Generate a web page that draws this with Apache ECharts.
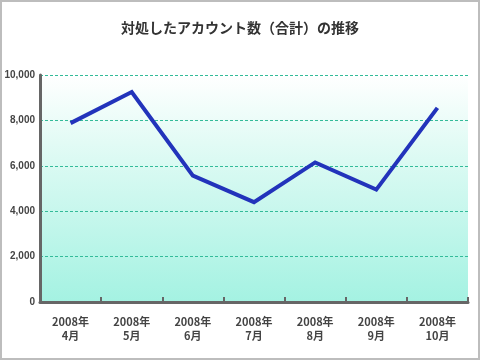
<!DOCTYPE html>
<html>
<head>
<meta charset="utf-8">
<script src="https://cdn.jsdelivr.net/npm/echarts@6/dist/echarts.min.js"></script>
<style>
html,body{margin:0;padding:0;background:#fff;}
#c{width:480px;height:360px;}
</style>
</head>
<body>
<div id="c"></div>
<script>
const titleText = '対処したアカウント数（合計）の推移';
const categories = ['2008年\n4月','2008年\n5月','2008年\n6月','2008年\n7月','2008年\n8月','2008年\n9月','2008年\n10月'];
const accounts = [7880, 9250, 5570, 4400, 6150, 4950, 8550];
const yMin = 0, yMax = 10000, yStep = 2000;

const chart = echarts.init(document.getElementById('c'), null, {renderer:'canvas'});
chart.setOption({
  animation: false,
  backgroundColor: '#ffffff',
  title: {
    text: titleText, left: 'center', top: 16,
    textStyle: {fontFamily: '"Noto Sans CJK JP", sans-serif', fontSize: 14, fontWeight: 'bold', color: '#333'}
  },
  graphic: [{
    type: 'rect', shape: {x: 1, y: 1, width: 478, height: 358},
    style: {fill: 'none', stroke: '#bdbdbd', lineWidth: 2}, silent: true, z: 100
  }],
  grid: {
    left: 40, right: 12, top: 75, bottom: 58, show: true, borderWidth: 0,
    backgroundColor: new echarts.graphic.LinearGradient(0, 0, 0, 1, [
      {offset: 0, color: '#ffffff'},
      {offset: 0.3, color: '#e2fbf5'},
      {offset: 1, color: '#a4f2e2'}
    ])
  },
  xAxis: {
    type: 'category', data: categories, boundaryGap: true,
    axisLine: {lineStyle: {color: '#666', width: 3}},
    axisTick: {show: true, inside: true, length: 5, lineStyle: {color: '#666', width: 2}},
    axisLabel: {margin: 13, fontSize: 11, fontWeight: 'bold', color: '#444', lineHeight: 14,
      fontFamily: '"Noto Sans CJK JP", sans-serif'},
    splitLine: {show: false}
  },
  yAxis: {
    type: 'value', min: yMin, max: yMax, interval: yStep,
    axisLine: {show: true, lineStyle: {color: '#666', width: 3}},
    axisTick: {show: false},
    axisLabel: {fontSize: 10, fontWeight: 'bold', color: '#444', margin: 5,
      fontFamily: 'Arial, "Liberation Sans", sans-serif',
      formatter: v => v.toLocaleString('en-US')},
    splitLine: {show: true, lineStyle: {color: '#33bb99', type: [3, 2], width: 1}}
  },
  series: [{
    type: 'line', data: accounts, showSymbol: false, symbol: 'none',
    lineStyle: {color: '#2233bb', width: 4, cap: 'butt', join: 'miter'}
  }]
});
</script>
</body>
</html>
